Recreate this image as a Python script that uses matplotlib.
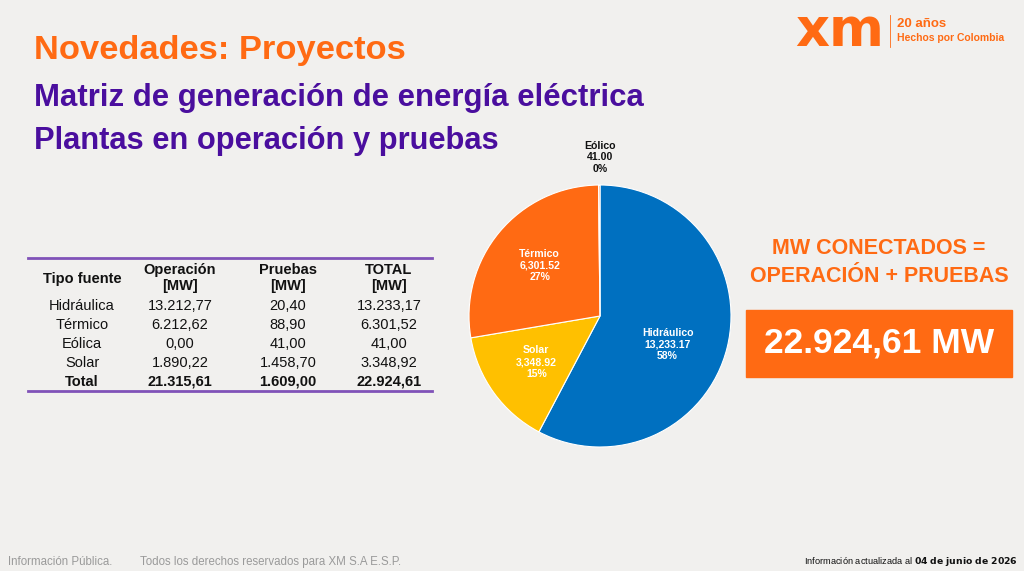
import matplotlib.pyplot as plt
import numpy as np

# table data
fuentes = ['Hidráulica', 'Térmico', 'Eólica', 'Solar']
operacion = [13212.77, 6212.62, 0.00, 1890.22]
pruebas = [20.40, 88.90, 41.00, 1458.70]

# pie data (clockwise from the top)
pie_labels = ['Hidráulico', 'Solar', 'Térmico', 'Eólico']
pie_values = [13233.17, 3348.92, 6301.52, 41.00]
pie_colors = ['#0070C0', '#FFC000', '#FF6A13', '#FF6A13']

ORANGE = '#FF6A13'
PURPLE = '#4A0E9E'
BG = '#F1F0EE'

plt.rcParams['font.family'] = ['Liberation Sans', 'DejaVu Sans']


def es(x):
    # 13212.77 -> 13.212,77
    return f'{x:,.2f}'.replace(',', 'X').replace('.', ',').replace('X', '.')


fig = plt.figure(figsize=(10.24, 5.71), dpi=100, facecolor=BG)
ax = fig.add_axes([0, 0, 1, 1])
ax.set_xlim(0, 1024)
ax.set_ylim(571, 0)
ax.axis('off')

# titles
ax.text(34, 50, 'Novedades: Proyectos', color=ORANGE, fontsize=24.8,
        fontweight='bold', va='center', ha='left')
ax.text(34, 98, 'Matriz de generación de energía eléctrica', color=PURPLE,
        fontsize=22.4, fontweight='bold', va='center', ha='left')
ax.text(34, 141, 'Plantas en operación y pruebas', color=PURPLE,
        fontsize=22.2, fontweight='bold', va='center', ha='left')

# logo
ax.text(795, 31, 'xm', color=ORANGE, fontsize=38, fontweight='bold',
        va='center', ha='left', family='DejaVu Sans')
ax.plot([890, 890], [15, 47], color=ORANGE, lw=0.6)
ax.text(897, 24, '20 años', color=ORANGE, fontsize=9.5, fontweight='bold',
        va='center', ha='left')
ax.text(897, 38, 'Hechos por Colombia', color=ORANGE, fontsize=7.5,
        fontweight='bold', va='center', ha='left')

# table
ax.plot([28, 432], [258, 258], color='#8052B8', lw=2)
ax.plot([28, 432], [391, 391], color='#8052B8', lw=2)
cols = [82, 180, 288, 389]
hdr = dict(fontsize=10.5, fontweight='bold', ha='center', va='center', color='#111111')
ax.text(cols[0], 279, 'Tipo fuente', **hdr)
ax.text(cols[1], 278, 'Operación\n[MW]', linespacing=1.15, **hdr)
ax.text(cols[2], 278, 'Pruebas\n[MW]', linespacing=1.15, **hdr)
ax.text(cols[3], 278, 'TOTAL\n[MW]', linespacing=1.15, **hdr)
cell = dict(fontsize=10.5, ha='center', va='center', color='#111111')
for i, f in enumerate(fuentes):
    y = 306 + i * 19
    ax.text(cols[0], y, f, **cell)
    ax.text(cols[1], y, es(operacion[i]), **cell)
    ax.text(cols[2], y, es(pruebas[i]), **cell)
    ax.text(cols[3], y, es(operacion[i] + pruebas[i]), **cell)
yt = 306 + 4 * 19
ax.text(cols[0], yt, 'Total', **hdr)
ax.text(cols[1], yt, es(sum(operacion)), **hdr)
ax.text(cols[2], yt, es(sum(pruebas)), **hdr)
ax.text(cols[3], yt, es(sum(operacion) + sum(pruebas)), **hdr)

# right panel
ax.text(879, 249, 'MW CONECTADOS =', color=ORANGE, fontsize=15.5,
        fontweight='bold', ha='center', va='center')
ax.text(879, 277, 'OPERACIÓN + PRUEBAS', color=ORANGE, fontsize=15.5,
        fontweight='bold', ha='center', va='center')
ax.add_patch(plt.Rectangle((746, 310), 266, 67, color=ORANGE))
ax.text(879, 343, es(sum(pie_values)) + ' MW', color='white', fontsize=25.5,
        fontweight='bold', ha='center', va='center')

# footer
ax.text(8, 562, 'Información Pública.', color='#9A9A9A', fontsize=8.3,
        ha='left', va='center')
ax.text(140, 562, 'Todos los derechos reservados para XM S.A E.S.P.',
        color='#9A9A9A', fontsize=8.3, ha='left', va='center')
ax.text(1018, 562, 'Información actualizada al $\\bf{04\\ de\\ junio\\ de\\ 2026}$',
        color='#111111', fontsize=6.7, ha='right', va='center')

# pie
pax = fig.add_axes([469 / 1024, 1 - 447 / 571, 262 / 1024, 262 / 571])
wedges, _ = pax.pie(pie_values, colors=pie_colors, startangle=90,
                    counterclock=False, radius=1,
                    wedgeprops=dict(edgecolor='white', linewidth=0.8))
pax.set_xlim(-1, 1)
pax.set_ylim(-1, 1)
pax.set_aspect('equal')
pax.axis('off')
total = sum(pie_values)
for w, lab, v in zip(wedges, pie_labels, pie_values):
    mid = (w.theta1 + w.theta2) / 2
    pct = f'{v / total * 100:.0f}%'
    txt = f'{lab}\n{v:,.2f}\n{pct}'
    if lab == 'Eólico':
        pax.text(0, 1.21, txt, ha='center', va='center', fontsize=7.6,
                 fontweight='bold', color='#111111', linespacing=1.2,
                 clip_on=False)
    else:
        r = 0.6
        if lab == 'Hidráulico':
            mid -= 9
            r = 0.56
        ang = np.deg2rad(mid)
        pax.text(r * np.cos(ang), r * np.sin(ang), txt, ha='center',
                 va='center', fontsize=7.6, fontweight='bold', color='white',
                 linespacing=1.2)

plt.savefig('out.png', dpi=100, facecolor=BG)
